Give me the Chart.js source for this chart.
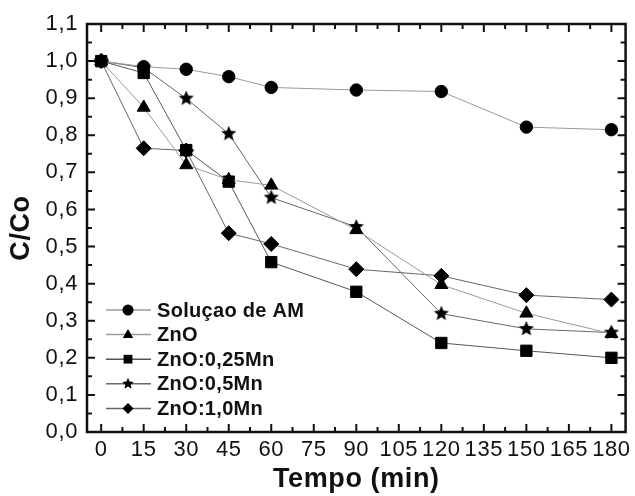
<!DOCTYPE html>
<html>
<head>
<meta charset="utf-8">
<title>C/Co vs Tempo</title>
<script src="https://cdn.jsdelivr.net/npm/chart.js"></script>
<style>
  html, body { margin: 0; padding: 0; background: #fff; }
  canvas { display: block; }
</style>
</head>
<body>
<canvas id="chart" width="635" height="496"></canvas>
<script>
// values (C/Co against time in minutes)
const times = [0, 15, 30, 45, 60, 90, 120, 150, 180];
const solucaoAM = [1.0, 0.985, 0.978, 0.958, 0.929, 0.922, 0.918, 0.822, 0.815];
const zno = [1.0, 0.875, 0.72, 0.68, 0.665, 0.545, 0.397, 0.32, 0.265];
const zno025Mn = [1.0, 0.968, 0.76, 0.675, 0.458, 0.378, 0.24, 0.219, 0.2];
const zno05Mn = [1.0, 0.982, 0.899, 0.804, 0.632, 0.553, 0.319, 0.278, 0.268];
const zno10Mn = [1.0, 0.765, 0.759, 0.536, 0.507, 0.439, 0.421, 0.369, 0.357];
const seriesNames = ['Soluçao de AM', 'ZnO', 'ZnO:0,25Mn', 'ZnO:0,5Mn', 'ZnO:1,0Mn'];

const xTicks = [0, 15, 30, 45, 60, 75, 90, 105, 120, 135, 150, 165, 180];
const yTicks = [0, 0.1, 0.2, 0.3, 0.4, 0.5, 0.6, 0.7, 0.8, 0.9, 1.0, 1.1];

const FONT = '"Liberation Sans", Arial, Helvetica, sans-serif';
const INK = '#111';

// Chart.js "star" is an asterisk, the figure uses a filled star
function starPath(g, cx, cy, r) {
  g.beginPath();
  for (let i = 0; i < 10; i++) {
    const rr = i % 2 ? r * 0.45 : r;
    const a = -Math.PI / 2 + i * Math.PI / 5;
    g.lineTo(cx + rr * Math.cos(a), cy + rr * Math.sin(a));
  }
  g.closePath();
}
function makeStar(r) {
  const c = document.createElement('canvas');
  const s = Math.ceil(r * 2 + 2);
  c.width = s; c.height = s;
  const g = c.getContext('2d');
  starPath(g, s / 2, s / 2, r);
  g.fillStyle = '#000';
  g.fill();
  return c;
}

const styles = [
  { point: 'circle', radius: 6.2, line: '#9a9a9a' },
  { point: 'triangle', radius: 7.5, line: '#9a9a9a' },
  { point: 'rect', radius: 8, line: '#555' },
  { point: makeStar(8), radius: 8, line: '#666' },
  { point: 'rectRot', radius: 7.5, line: '#666' }
];
const allSeries = [solucaoAM, zno, zno025Mn, zno05Mn, zno10Mn];

const datasets = allSeries.map((vals, k) => ({
  label: seriesNames[k],
  data: times.map((t, i) => ({ x: t, y: vals[i] })),
  borderColor: styles[k].line,
  borderWidth: 1,
  pointStyle: styles[k].point,
  pointRadius: styles[k].radius,
  pointHoverRadius: styles[k].radius,
  pointBackgroundColor: '#000',
  pointBorderColor: '#000',
  pointBorderWidth: 1,
  tension: 0,
  clip: false
}));

// small legend markers
function drawMarker(g, kind, x, y, r) {
  g.beginPath();
  if (kind === 'circle') {
    g.arc(x, y, r, 0, Math.PI * 2);
  } else if (kind === 'triangle') {
    g.moveTo(x, y - r);
    g.lineTo(x + r * 0.95, y + r * 0.6);
    g.lineTo(x - r * 0.95, y + r * 0.6);
    g.closePath();
  } else if (kind === 'rect') {
    g.rect(x - r * 0.8, y - r * 0.8, r * 1.6, r * 1.6);
  } else if (kind === 'star') {
    starPath(g, x, y, r * 1.1);
  } else {
    g.moveTo(x, y - r); g.lineTo(x + r, y); g.lineTo(x, y + r); g.lineTo(x - r, y);
    g.closePath();
  }
  g.fill();
}
const legendKinds = ['circle', 'triangle', 'rect', 'star', 'diamond'];

const insideLegend = {
  id: 'insideLegend',
  afterDraw(chart) {
    const g = chart.ctx;
    g.save();
    g.font = 'bold 20px ' + FONT;
    g.letterSpacing = '0.3px';
    g.textBaseline = 'middle';
    seriesNames.forEach((name, k) => {
      const y = 310 + k * 24.6;
      g.strokeStyle = styles[k].line;
      g.lineWidth = 1.5;
      g.beginPath();
      g.moveTo(106, y); g.lineTo(151, y);
      g.stroke();
      g.fillStyle = '#000';
      drawMarker(g, legendKinds[k], 128, y, 5.5);
      g.fillStyle = INK;
      g.fillText(name, 157, y + 1);
    });
    g.restore();
  }
};

// the figure's lettering is a little wider than plain Arial
const wideText = {
  id: 'wideText',
  beforeDraw(chart) { chart.ctx.letterSpacing = '0.6px'; },
  beforeDatasetsDraw(chart) { chart.ctx.letterSpacing = '0px'; }
};

// box round the plot with inward ticks on all four sides
const frame = {
  id: 'frame',
  afterDatasetsDraw(chart) {
    const { ctx: g, chartArea: a, scales: { x, y } } = chart;
    const xMinor = xTicks.slice(0, -1).map((t, i) => (t + xTicks[i + 1]) / 2);
    const yMinor = yTicks.slice(0, -1).map((t, i) => (t + yTicks[i + 1]) / 2);
    g.save();
    g.strokeStyle = '#111';
    g.lineWidth = 2;
    g.beginPath();
    const xt = (v, len) => {
      const p = x.getPixelForValue(v);
      g.moveTo(p, a.bottom); g.lineTo(p, a.bottom - len);
      g.moveTo(p, a.top); g.lineTo(p, a.top + len);
    };
    const yt = (v, len) => {
      const p = y.getPixelForValue(v);
      g.moveTo(a.left, p); g.lineTo(a.left + len, p);
      g.moveTo(a.right, p); g.lineTo(a.right - len, p);
    };
    xTicks.forEach(v => xt(v, 8));
    xMinor.forEach(v => xt(v, 5));
    yTicks.forEach(v => yt(v, 8));
    yMinor.forEach(v => yt(v, 5));
    g.stroke();
    g.lineWidth = 2.5;
    g.strokeRect(a.left, a.top, a.right - a.left, a.bottom - a.top);
    g.restore();
  }
};

new Chart(document.getElementById('chart'), {
  type: 'line',
  data: { datasets },
  options: {
    responsive: false,
    animation: false,
    events: [],
    layout: { padding: { top: 24, right: 7, left: 0, bottom: 0 } },
    plugins: {
      legend: { display: false },
      tooltip: { enabled: false }
    },
    scales: {
      x: {
        type: 'linear',
        min: -5,
        max: 185,
        afterBuildTicks: s => { s.ticks = xTicks.map(v => ({ value: v })); },
        afterFit: s => { s.height = 64; },
        grid: { display: false, drawTicks: false },
        border: { display: false },
        ticks: {
          font: { family: FONT, size: 22 },
          color: INK,
          padding: 5,
          autoSkip: false,
          minRotation: 0,
          maxRotation: 0,
          callback: v => String(v)
        },
        title: {
          display: true,
          text: 'Tempo (min)',
          font: { family: FONT, size: 27, weight: 'bold' },
          color: INK,
          padding: { top: 0, bottom: 0 }
        }
      },
      y: {
        min: 0,
        max: 1.1,
        afterBuildTicks: s => { s.ticks = yTicks.map(v => ({ value: v })); },
        afterFit: s => { s.width = 87; },
        grid: { display: false, drawTicks: false },
        border: { display: false },
        ticks: {
          font: { family: FONT, size: 22 },
          color: INK,
          padding: 9,
          callback: v => v.toFixed(1).replace('.', ',')
        },
        title: {
          display: true,
          text: 'C/Co',
          font: { family: FONT, size: 27, weight: 'bold' },
          color: INK,
          padding: { top: 5, bottom: 0 }
        }
      }
    }
  },
  plugins: [wideText, frame, insideLegend]
});
</script>
</body>
</html>
